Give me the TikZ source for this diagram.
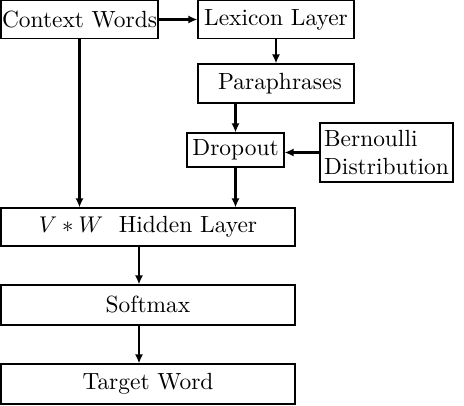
\documentclass[tikz,border=0pt]{standalone}
\usepackage{amsmath, amssymb}
\usetikzlibrary{calc, arrows.meta}

\tikzset{
  box/.style={draw, line width=0.5pt, inner sep=0pt, align=center, font=\fontsize{10.3}{12.6}\selectfont},
  flow/.style={line width=1.1pt, -{Latex[length=4pt, width=3.6pt]}}
}

\begin{document}
\begin{tikzpicture}[x=0.44pt, y=-0.44pt]
\useasboundingbox (0,0) rectangle (464,406);
\coordinate (mid) at (139,0); % arrows below the hidden layer
\node[box, minimum width={157*0.44pt}, minimum height={38*0.44pt}] (ctx) at (79.5,19.5) {Context Words};
\node[box, minimum width={156*0.44pt}, minimum height={38*0.44pt}] (lex) at (276,19.5) {Lexicon Layer};
\node[box, minimum width={156*0.44pt}, minimum height={39*0.44pt}] (para) at (276,83.5) {\ Paraphrases};
\node[box, minimum width={97*0.44pt}, minimum height={34*0.44pt}] (drop) at (235.5,150) {Dropout};
\node[box, align=left, minimum width={133*0.44pt}, minimum height={59*0.44pt}] (bern) at (386.5,152.5) {Bernoulli\\Distribution};
\node[box, minimum width={294*0.44pt}, minimum height={38*0.44pt}] (hid) at (148,227) {$V*W$\ \ Hidden Layer};
\node[box, minimum width={294*0.44pt}, minimum height={40*0.44pt}] (soft) at (148,305) {Softmax};
\node[box, minimum width={294*0.44pt}, minimum height={40*0.44pt}] (tgt) at (148,384) {Target Word};
\draw[flow] (ctx.east) -- (lex.west);
\draw[flow] (lex.south) -- (para.north);
\draw[flow] (para.south -| drop.north) -- (drop.north);
\draw[flow] (bern.west) -- (bern.west -| drop.east);
\draw[flow] (drop.south) -- (drop.south |- hid.north);
\draw[flow] (ctx.south) -- (ctx.south |- hid.north);
\draw[flow] (hid.south -| mid) -- (soft.north -| mid);
\draw[flow] (soft.south -| mid) -- (tgt.north -| mid);
\end{tikzpicture}
\end{document}
